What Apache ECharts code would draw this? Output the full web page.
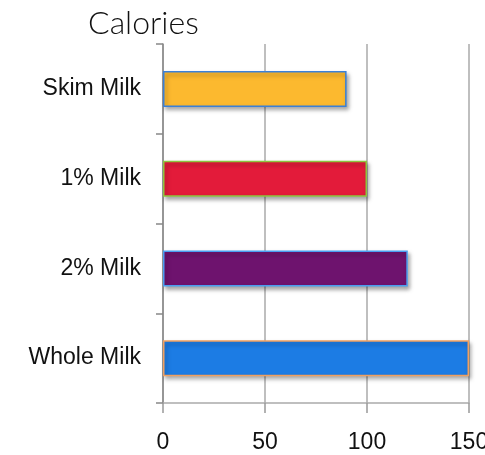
<!DOCTYPE html>
<html>
<head>
<meta charset="utf-8">
<script src="https://cdn.jsdelivr.net/npm/echarts@6/dist/echarts.min.js"></script>
<style>
  html, body { margin: 0; padding: 0; background: #fff; }
  #chart { width: 485px; height: 455px; }
</style>
</head>
<body>
<div id="chart"></div>
<script>
// data, bottom to top as echarts draws a category y axis
var categories = ['Whole Milk', '2% Milk', '1% Milk', 'Skim Milk'];
var calories = [150, 120, 100, 90];

// per-bar fill and outline
var fills = ['#1c7ce4', '#6e136e', '#e31b3a', '#fcb92f'];
var borders = ['#f0a060', '#4a9ef0', '#8cc63f', '#3a80d8'];

var myChart = echarts.init(document.getElementById('chart'));

var barData = [];
for (var i = 0; i < calories.length; i++) {
    barData.push({
        value: calories[i],
        itemStyle: {
            color: fills[i],
            borderColor: borders[i],
            borderWidth: 1.5
        }
    });
}

var option = {
    animation: false,
    title: {
        text: 'Calories',
        left: 83,
        top: 3,
        textStyle: {
            fontFamily: 'Lato',
            fontWeight: 300,
            fontSize: 32,
            color: '#111'
        }
    },
    grid: {
        left: 163,
        right: 16,
        top: 44,
        bottom: 52,
        outerBoundsMode: 'none'
    },
    xAxis: {
        type: 'value',
        min: 0,
        max: 150,
        interval: 50,
        axisLine: {
            show: true,
            lineStyle: { color: '#aaa', width: 1.5 }
        },
        axisTick: {
            show: true,
            length: 10,
            lineStyle: { color: '#999', width: 1.5 }
        },
        splitLine: {
            show: true,
            lineStyle: { color: '#aaa', width: 1.5 }
        },
        axisLabel: {
            margin: 28,
            fontFamily: 'Liberation Sans',
            fontSize: 23,
            color: '#111'
        }
    },
    yAxis: {
        type: 'category',
        data: categories,
        axisLine: {
            show: true,
            lineStyle: { color: '#888', width: 1.5 }
        },
        axisTick: {
            show: true,
            length: 7,
            lineStyle: { color: '#888', width: 1.5 }
        },
        axisLabel: {
            margin: 22,
            fontFamily: 'Liberation Sans',
            fontSize: 23,
            color: '#111'
        }
    },
    series: [
        {
            name: 'Calories',
            type: 'bar',
            barWidth: 36,
            data: barData,
            itemStyle: {
                shadowColor: 'rgba(0,0,0,0.35)',
                shadowBlur: 4,
                shadowOffsetX: 2,
                shadowOffsetY: 3
            }
        }
    ]
};

myChart.setOption(option);
</script>
</body>
</html>
